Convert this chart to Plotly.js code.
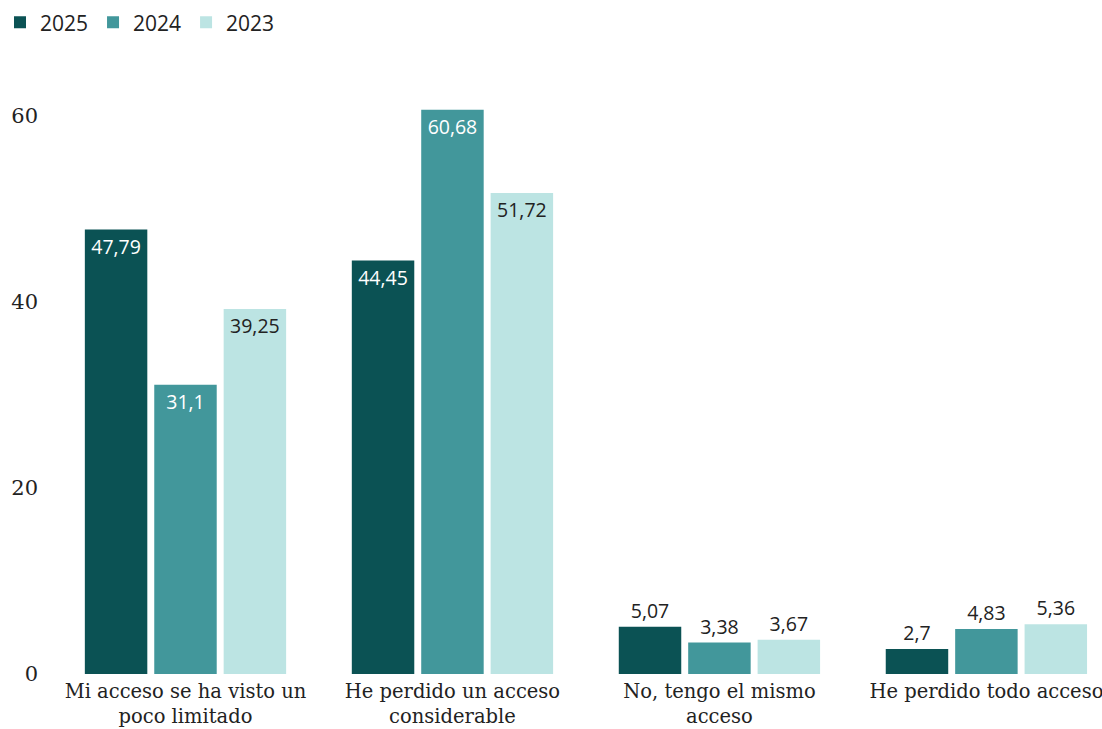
<!DOCTYPE html>
<html>
<head>
<meta charset="utf-8">
<script src="https://cdn.plot.ly/plotly-3.0.1.min.js"></script>
<style>html,body{margin:0;padding:0;background:#fff;}#chart{width:1102px;height:729px;}</style>
</head>
<body>
<div id="chart"></div>
<script>
const categories = [
  "Mi acceso se ha visto un<br>poco limitado",
  "He perdido un acceso<br>considerable",
  "No, tengo el mismo<br>acceso",
  "He perdido todo acceso"
];
const seriesNames = ["2025", "2024", "2023"];
const values2025 = [47.79, 44.45, 5.07, 2.7];
const values2024 = [31.1, 60.68, 3.38, 4.83];
const values2023 = [39.25, 51.72, 3.67, 5.36];
const colors = ["#0b5254", "#42979b", "#bce4e3"];
const insideTextColors = ["#ffffff", "#ffffff", "#222222"];

const allValues = [values2025, values2024, values2023];
const fmt = v => String(v).replace('.', ',');

const traces = allValues.map((vals, i) => {
  const positions = vals.map(v => v > 20 ? 'inside' : 'outside');
  const tcolors = vals.map(v => v > 20 ? insideTextColors[i] : '#222222');
  return {
    type: 'bar',
    name: seriesNames[i],
    x: categories,
    y: vals,
    text: vals.map(fmt),
    textposition: positions,
    insidetextanchor: 'end',
    textangle: 0,
    constraintext: 'none',
    cliponaxis: false,
    textfont: {family: 'Open Sans, sans-serif', size: 19.5, color: tcolors},
    marker: {color: colors[i], line: {width: 0}},
    hoverinfo: 'skip'
  };
});

const layout = {
  width: 1102,
  height: 729,
  margin: {l: 52, r: 0, t: 80, b: 55},
  paper_bgcolor: '#ffffff',
  plot_bgcolor: '#ffffff',
  barmode: 'group',
  bargap: 0.22,
  bargroupgap: 0.1,
  showlegend: true,
  legend: {
    orientation: 'h',
    xref: 'container', yref: 'container',
    x: 0, y: 0.997, xanchor: 'left', yanchor: 'top',
    font: {family: 'Open Sans, sans-serif', size: 21, color: '#222222'},
    itemwidth: 30,
    tracegroupgap: 0
  },
  xaxis: {
    range: [-0.5, 3.433],
    showgrid: false, zeroline: false, showline: false,
    ticks: '',
    ticklabelstandoff: 3,
    tickfont: {family: 'DejaVu Serif, serif', size: 19.5, color: '#222222'},
    automargin: false
  },
  yaxis: {
    range: [0, 63.87],
    tickvals: [0, 20, 40, 60],
    showgrid: false, zeroline: false, showline: false,
    ticks: '',
    ticklabelstandoff: 13,
    tickfont: {family: 'DejaVu Serif, serif', size: 21, color: '#222222'},
    automargin: false
  },
  font: {family: 'Open Sans, sans-serif'}
};

Plotly.newPlot('chart', traces, layout, {displayModeBar: false, staticPlot: true});
</script>
</body>
</html>
